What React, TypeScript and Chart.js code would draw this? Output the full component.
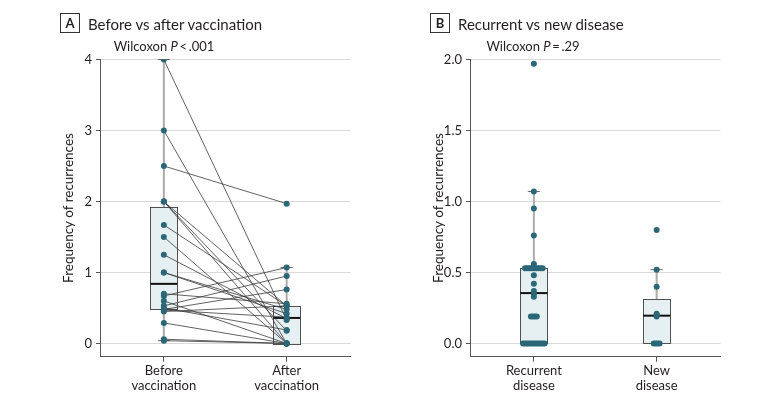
import React, { useEffect, useRef } from 'react';
import { Chart, registerables } from 'chart.js';
Chart.register(...registerables);

// ---------- data ----------
const panelACategories = [['Before', 'vaccination'], ['After', 'vaccination']];
const panelBCategories = [['Recurrent', 'disease'], ['New', 'disease']];
const panelATicks = [0, 1, 2, 3, 4];
const panelBTicks = [0, 0.5, 1, 1.5, 2];

// paired per patient (before[i] -> after[i])
const beforeVacc = [4, 3, 2.5, 2, 2, 2, 1.67, 1.5, 1.25, 1.0, 1.0, 0.7, 0.67, 0.6, 0.53, 0.5, 0.48, 0.47, 0.45, 0.29, 0.06, 0.04];
const afterVacc = [0.33, 0, 1.97, 0.53, 0, 0.18, 0.53, 0, 0.35, 0.48, 0.42, 0.56, 1.07, 0, 0.95, 0.19, 0.76, 0.37, 0.53, 0, 0, 0];

const recurrentDisease = [
  0, 0, 0, 0, 0, 0, 0, 0, 0, 0, 0, 0,
  0.19, 0.19, 0.19, 0.19,
  0.33, 0.35, 0.37, 0.42, 0.48,
  0.53, 0.53, 0.53, 0.53, 0.53, 0.53, 0.53, 0.53, 0.53, 0.53,
  0.56, 0.76, 0.95, 1.07, 1.97,
];
const newDisease = [0, 0, 0, 0, 0.19, 0.2, 0.21, 0.4, 0.52, 0.8];

// box statistics [lower whisker, Q1, median, Q3, upper whisker]
const boxBefore = [0.04, 0.48, 0.84, 1.92, 4];
const boxAfter = [0, 0, 0.36, 0.53, 1.07];
const boxRecurrent = [0, 0, 0.355, 0.53, 1.07];
const boxNew = [0, 0, 0.196, 0.31, 0.52];

// ---------- styling ----------
const FONT = 'Lato, "Noto Sans", sans-serif';
const TEXT = '#231f20';
const TEAL = '#2b6777';
const AXIS = '#555555';
const GRID = '#d9d9d9';

const boxPlugin = {
  id: 'boxes',
  beforeDatasetsDraw(chart: any, _args: any, opts: any) {
    const { ctx, scales } = chart;
    const x = scales.x;
    const y = scales.y;
    (opts.boxes || []).forEach((b: number[], i: number) => {
      const cx = x.getPixelForValue(i);
      const hw = x.getPixelForValue(i + 0.11) - cx;
      const [lo, q1, med, q3, hi] = b.map((v) => y.getPixelForValue(v));
      ctx.save();
      ctx.strokeStyle = '#ababab';
      ctx.lineWidth = 2;
      ctx.beginPath();
      ctx.moveTo(cx, lo);
      ctx.lineTo(cx, hi);
      ctx.stroke();
      ctx.strokeStyle = '#666';
      ctx.lineWidth = 1;
      if (b[4] > b[3]) {
        ctx.beginPath();
        ctx.moveTo(cx - 6, hi);
        ctx.lineTo(cx + 6, hi);
        ctx.stroke();
      }
      if (b[0] < b[1]) {
        ctx.beginPath();
        ctx.moveTo(cx - 6, lo);
        ctx.lineTo(cx + 6, lo);
        ctx.stroke();
      }
      ctx.fillStyle = '#e6f0f2';
      ctx.fillRect(cx - hw, q3, 2 * hw, q1 - q3);
      ctx.strokeStyle = '#505050';
      ctx.lineWidth = 1;
      ctx.strokeRect(Math.round(cx - hw) + 0.5, Math.round(q3) + 0.5, Math.round(2 * hw), Math.round(q1 - q3));
      ctx.strokeStyle = '#111';
      ctx.lineWidth = 2;
      ctx.beginPath();
      ctx.moveTo(cx - hw, med);
      ctx.lineTo(cx + hw, med);
      ctx.stroke();
      ctx.restore();
    });
  },
};

function dotplot(values: number[], cat: number, spacing: number) {
  const counts = new Map<number, number>();
  values.forEach((v) => counts.set(v, (counts.get(v) || 0) + 1));
  const seen = new Map<number, number>();
  return values.map((v) => {
    const k = counts.get(v) || 1;
    const j = seen.get(v) || 0;
    seen.set(v, j + 1);
    return { x: cat + (j - (k - 1) / 2) * spacing, y: v };
  });
}

function makeOptions(cats: string[][], ticks: number[], yMin: number, yMax: number, boxes: number[][], fmt: (v: number) => string) {
  return {
    animation: false,
    responsive: false,
    maintainAspectRatio: false,
    layout: { padding: { left: 0, right: 39.5, top: 59.5, bottom: 0 } },
    plugins: {
      legend: { display: false },
      tooltip: { enabled: false },
      boxes: { boxes },
    },
    scales: {
      x: {
        type: 'linear',
        min: -0.52,
        max: 1.52,
        afterBuildTicks: (s: any) => {
          s.ticks = cats.map((_c, i) => ({ value: i }));
        },
        ticks: {
          callback: (v: number) => cats[v],
          font: { family: FONT, size: 13, lineHeight: 1.15 },
          color: TEXT,
          padding: 2,
          maxRotation: 0,
          autoSkip: false,
        },
        grid: { drawOnChartArea: false, drawTicks: true, tickLength: 5, color: AXIS, tickColor: AXIS },
        border: { display: true, color: AXIS, width: 1 },
        afterFit: (s: any) => {
          s.height = 48.3;
        },
      },
      y: {
        type: 'linear',
        min: yMin,
        max: yMax,
        afterBuildTicks: (s: any) => {
          s.ticks = ticks.map((v) => ({ value: v }));
        },
        ticks: {
          callback: (v: number) => fmt(v),
          font: { family: FONT, size: 13 },
          color: TEXT,
          padding: 4,
        },
        grid: { color: GRID, tickColor: AXIS, tickLength: 4, drawTicks: true, lineWidth: 1 },
        border: { display: true, color: AXIS, width: 1 },
        afterFit: (s: any) => {
          s.width = 100;
        },
      },
    },
  };
}

function PanelA() {
  const ref = useRef<HTMLCanvasElement>(null);
  useEffect(() => {
    const lines = beforeVacc.map((b, i) => ({
      data: [
        { x: 0, y: b },
        { x: 1, y: afterVacc[i] },
      ],
      showLine: true,
      borderColor: '#3a3a3a',
      borderWidth: 0.8,
      pointRadius: 0,
      order: 1,
    }));
    const points = {
      data: [...beforeVacc.map((v) => ({ x: 0, y: v })), ...afterVacc.map((v) => ({ x: 1, y: v }))],
      pointRadius: 3,
      pointBackgroundColor: TEAL,
      pointBorderWidth: 0,
      showLine: false,
      order: -1,
    };
    const chart = new Chart(ref.current as HTMLCanvasElement, {
      type: 'scatter',
      data: { datasets: [...lines, points] as any },
      options: makeOptions(panelACategories, panelATicks, -0.186, 4, [boxBefore, boxAfter], (v) => String(v)) as any,
      plugins: [boxPlugin as any],
    });
    return () => chart.destroy();
  }, []);
  return <canvas ref={ref} width={390} height={405} style={{ position: 'absolute', left: 0, top: 0, width: 390, height: 405 }} />;
}

function PanelB() {
  const ref = useRef<HTMLCanvasElement>(null);
  useEffect(() => {
    const spacing = 0.016;
    const points = {
      data: [...dotplot(recurrentDisease, 0, spacing), ...dotplot(newDisease, 1, spacing)],
      pointRadius: 3,
      pointBackgroundColor: TEAL,
      pointBorderWidth: 0,
      showLine: false,
      order: -1,
    };
    const chart = new Chart(ref.current as HTMLCanvasElement, {
      type: 'scatter',
      data: { datasets: [points] as any },
      options: makeOptions(panelBCategories, panelBTicks, -0.093, 2, [boxRecurrent, boxNew], (v) => v.toFixed(1)) as any,
      plugins: [boxPlugin as any],
    });
    return () => chart.destroy();
  }, []);
  return <canvas ref={ref} width={390} height={405} style={{ position: 'absolute', left: 370, top: 0, width: 390, height: 405 }} />;
}

const labelBox: React.CSSProperties = {
  position: 'absolute',
  width: 20,
  height: 20,
  boxSizing: 'border-box',
  border: '1px solid #333',
  fontFamily: FONT,
  fontSize: 13,
  fontWeight: 700,
  lineHeight: '18px',
  textAlign: 'center',
  color: TEXT,
  top: 13,
};
const titleStyle: React.CSSProperties = {
  position: 'absolute',
  top: 14,
  fontFamily: FONT,
  fontSize: 15,
  lineHeight: '20px',
  color: TEXT,
  whiteSpace: 'nowrap',
};
const statStyle: React.CSSProperties = {
  position: 'absolute',
  top: 38,
  width: 200,
  textAlign: 'center',
  fontFamily: FONT,
  fontSize: 13,
  lineHeight: '17px',
  color: TEXT,
  whiteSpace: 'nowrap',
};
const yTitleStyle: React.CSSProperties = {
  position: 'absolute',
  top: 208 - 9,
  width: 240,
  marginLeft: -120,
  textAlign: 'center',
  transform: 'rotate(-90deg)',
  fontFamily: FONT,
  fontSize: 13.5,
  lineHeight: '18px',
  color: TEXT,
  whiteSpace: 'nowrap',
};

export default function App() {
  return (
    <div style={{ position: 'absolute', left: 0, top: 0, width: 780, height: 405, background: '#fff', overflow: 'hidden' }}>
      <PanelA />
      <PanelB />
      <div style={{ ...labelBox, left: 60 }}>A</div>
      <div style={{ ...titleStyle, left: 88 }}>Before vs after vaccination</div>
      <div style={{ ...statStyle, left: 164 - 100 }}>
        Wilcoxon <i>P</i>&thinsp;&lt;&thinsp;.001
      </div>
      <div style={{ ...yTitleStyle, left: 68 }}>Frequency of recurrences</div>

      <div style={{ ...labelBox, left: 430 }}>B</div>
      <div style={{ ...titleStyle, left: 458 }}>Recurrent vs new disease</div>
      <div style={{ ...statStyle, left: 533 - 100 }}>
        Wilcoxon <i>P</i>&thinsp;=&thinsp;.29
      </div>
      <div style={{ ...yTitleStyle, left: 438 }}>Frequency of recurrences</div>
    </div>
  );
}
